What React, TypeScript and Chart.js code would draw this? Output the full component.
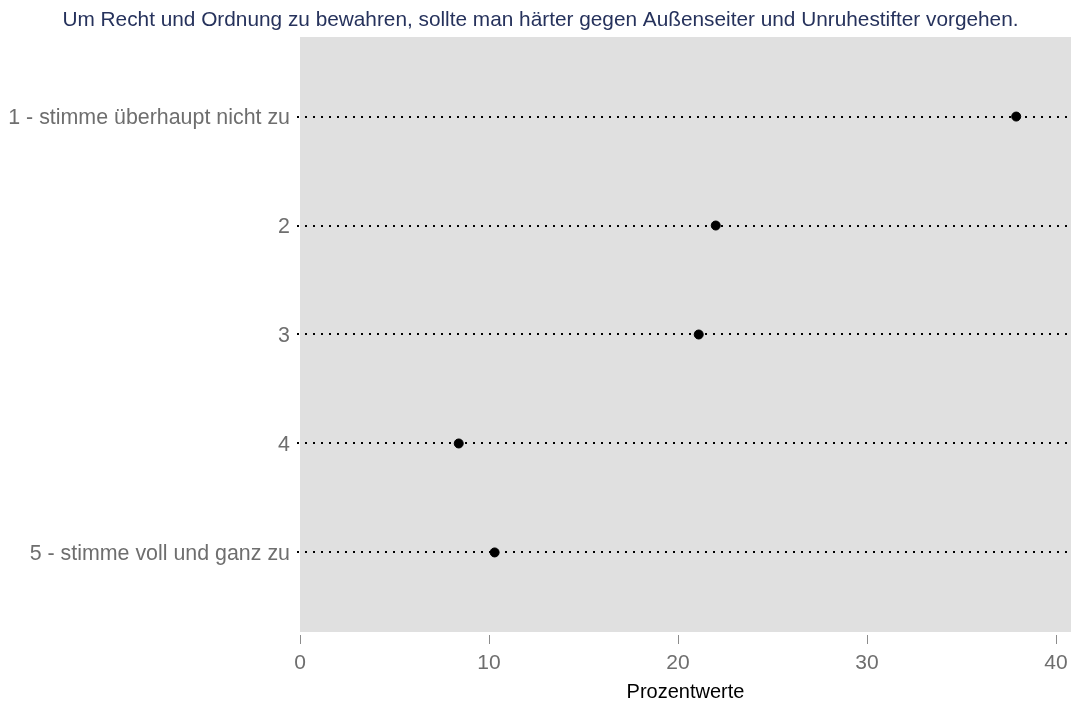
import React, { useEffect, useRef } from "react";
import { Chart, registerables } from "chart.js";

Chart.register(...registerables);

const titleText = "Um Recht und Ordnung zu bewahren, sollte man härter gegen Außenseiter und Unruhestifter vorgehen.";
const categories = [
  "1 - stimme überhaupt nicht zu",
  "2",
  "3",
  "4",
  "5 - stimme voll und ganz zu",
];
const values = [37.9, 22.0, 21.1, 8.4, 10.3];
const xTicks = [0, 10, 20, 30, 40];
const xTitle = "Prozentwerte";

const FONT = "'Liberation Sans', Arial, sans-serif";

const bgPlugin = {
  id: "plotBg",
  beforeDraw(chart: any) {
    const { ctx, chartArea } = chart;
    ctx.save();
    ctx.fillStyle = "#e0e0e0";
    ctx.fillRect(chartArea.left, chartArea.top, chartArea.right - chartArea.left, chartArea.bottom - chartArea.top);
    ctx.restore();
  },
};

const titlePlugin = {
  id: "topTitle",
  afterDraw(chart: any) {
    const { ctx } = chart;
    ctx.save();
    ctx.fillStyle = "#26325c";
    ctx.font = "20.8px " + FONT;
    ctx.textAlign = "center";
    ctx.textBaseline = "middle";
    ctx.fillText(titleText, 540.5, 20.5);
    ctx.restore();
  },
};

const gridPlugin = {
  id: "dotGrid",
  beforeDatasetsDraw(chart: any) {
    const { ctx, chartArea } = chart;
    const y = chart.scales.y;
    const x = chart.scales.x;
    ctx.save();
    ctx.strokeStyle = "#000000";
    ctx.lineWidth = 2;
    ctx.setLineDash([2, 6]);
    categories.forEach((_, i) => {
      const py = Math.round(y.getPixelForValue(i + 1));
      ctx.beginPath();
      ctx.moveTo(chartArea.left - 3, py);
      ctx.lineTo(chart.width, py);
      ctx.stroke();
    });
    ctx.setLineDash([]);
    ctx.strokeStyle = "#8c8c8c";
    ctx.lineWidth = 1;
    xTicks.forEach((t) => {
      const px = Math.round(x.getPixelForValue(t)) + 0.5;
      ctx.beginPath();
      ctx.moveTo(px, chartArea.bottom + 3);
      ctx.lineTo(px, chartArea.bottom + 12);
      ctx.stroke();
    });
    ctx.restore();
  },
};

export default function App() {
  const ref = useRef<HTMLCanvasElement | null>(null);
  useEffect(() => {
    if (!ref.current) return;
    const chart = new Chart(ref.current, {
      type: "scatter",
      data: {
        datasets: [
          {
            data: categories.map((_, i) => ({ x: values[i], y: i + 1 })),
            backgroundColor: "#000000",
            borderColor: "#000000",
            pointRadius: 4.5,
            pointHoverRadius: 4.5,
          },
        ],
      },
      options: {
        animation: false,
        responsive: false,
        layout: { autoPadding: false, padding: { left: 0, right: 0, top: 37, bottom: 0 } },
        plugins: {
          legend: { display: false },
          tooltip: { enabled: false },
          title: { display: false },
        },
        scales: {
          x: {
            type: "linear",
            min: 0,
            max: 40.8,
            afterBuildTicks: (scale: any) => {
              scale.ticks = xTicks.map((v) => ({ value: v }));
            },
            afterFit: (scale: any) => {
              scale.height = 72;
              scale.paddingRight = 0;
              scale.paddingLeft = 0;
            },
            grid: { display: false, drawTicks: false },
            border: { display: false },
            ticks: {
              color: "#6e6e6e",
              font: { family: FONT, size: 21 },
              padding: 19,
              autoSkip: false,
              maxRotation: 0,
            },
            title: {
              display: true,
              text: xTitle,
              color: "#000000",
              font: { family: FONT, size: 20 },
              padding: { top: 0, bottom: 0 },
            },
          },
          y: {
            type: "linear",
            reverse: true,
            min: 0.27,
            max: 5.73,
            afterBuildTicks: (scale: any) => {
              scale.ticks = categories.map((_, i) => ({ value: i + 1 }));
            },
            afterFit: (scale: any) => {
              scale.width = 300;
              scale.paddingTop = 0;
              scale.paddingBottom = 0;
            },
            grid: { display: false, drawTicks: false },
            border: { display: false },
            ticks: {
              color: "#6e6e6e",
              font: { family: FONT, size: 21.4 },
              padding: 10,
              labelOffset: 2,
              autoSkip: false,
              callback: (v: any) => categories[Math.round(Number(v)) - 1] ?? "",
            },
          },
        },
      },
      plugins: [bgPlugin, gridPlugin, titlePlugin],
    });
    return () => chart.destroy();
  }, []);
  return (
    <div style={{ position: "fixed", left: 0, top: 0, width: 1071, height: 704, background: "#ffffff" }}>
      <canvas ref={ref} width={1071} height={704} style={{ display: "block" }} />
    </div>
  );
}
